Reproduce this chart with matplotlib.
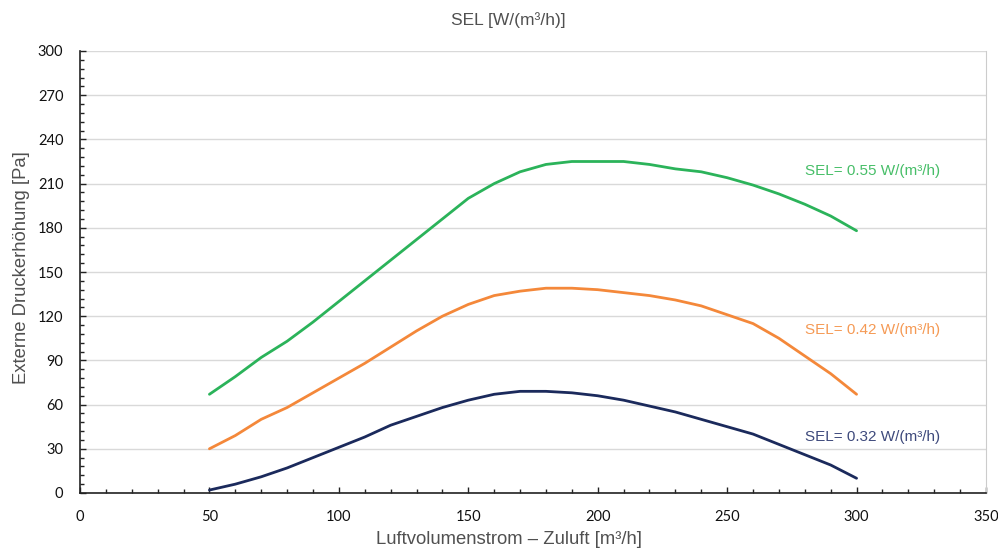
import matplotlib
matplotlib.use('Agg')
import matplotlib.pyplot as plt
import numpy as np

# %% data
luft = [50, 60, 70, 80, 90, 100, 110, 120, 130, 140, 150, 160, 170,
        180, 190, 200, 210, 220, 230, 240, 250, 260, 270, 280, 290, 300]
sel_055 = [67, 79, 92, 103, 116, 130, 144, 158, 172, 186, 200, 210, 218,
           223, 225, 225, 225, 223, 220, 218, 214, 209, 203, 196, 188, 178]
sel_042 = [30, 39, 50, 58, 68, 78, 88, 99, 110, 120, 128, 134, 137,
           139, 139, 138, 136, 134, 131, 127, 121, 115, 105, 93, 81, 67]
sel_032 = [2, 6, 11, 17, 24, 31, 38, 46, 52, 58, 63, 67, 69,
           69, 68, 66, 63, 59, 55, 50, 45, 40, 33, 26, 19, 10]

labels = ['SEL= 0.55 W/(m³/h)', 'SEL= 0.42 W/(m³/h)', 'SEL= 0.32 W/(m³/h)']
label_y = [218.5, 110.5, 38]

line_cols = ['#2bb35a', '#f4883a', '#1b2a5c']
text_cols = ['#47be68', '#f59a55', '#3e4a7c']

# %% figure
fig = plt.figure(figsize=(9.98, 5.5), dpi=100)
ax = fig.add_axes([80/998, 57/550, 906/998, 442/550])

for yy, c in zip([sel_055, sel_042, sel_032], line_cols):
    ax.plot(luft, yy, color=c, lw=2.0, solid_capstyle='round', zorder=3)

for lab, ly, c in zip(labels, label_y, text_cols):
    ax.text(280, ly, lab, color=c, fontsize=11, family='Liberation Sans',
            ha='left', va='center')

ax.set_xlim(0, 350)
ax.set_ylim(0, 300)
ax.set_xticks(np.arange(0, 351, 50))
ax.set_xticks(np.arange(0, 351, 10), minor=True)
ax.set_yticks(np.arange(0, 301, 30))
ax.set_yticks(np.arange(0, 301, 6), minor=True)
ax.grid(axis='y', which='major', color='#d9d9d9', lw=1.0, zorder=0)

ax.tick_params(which='both', direction='in', color='#222222', width=1.0,
               labelsize=10.5, labelcolor='#111111')
ax.tick_params(which='major', length=4.5, pad=12)
ax.tick_params(which='minor', length=3)
ax.tick_params(axis='y', which='major', pad=12)
ax.tick_params(axis='y', which='both', right=False)
ax.tick_params(axis='x', which='both', top=False)
for t in ax.get_xticklabels() + ax.get_yticklabels():
    t.set_family('Lato')

ax.spines['top'].set_visible(False)
ax.spines['right'].set_color('#cccccc')
ax.spines['left'].set_color('#222222')
ax.spines['bottom'].set_color('#222222')
ax.spines['left'].set_linewidth(1.2)
ax.spines['bottom'].set_linewidth(1.2)

ax.set_xlabel('Luftvolumenstrom – Zuluft [m³/h]', fontsize=13.3,
              family='Liberation Sans', color='#505050', va='center')
ax.xaxis.set_label_coords(0.4735, -47/442)
ax.set_ylabel('Externe Druckerhöhung [Pa]', fontsize=13.3,
              family='Liberation Sans', color='#505050', va='center')
ax.yaxis.set_label_coords(-58/906, 0.51)
fig.text(0.509, 1 - 20/550, 'SEL [W/(m³/h)]', ha='center', va='center',
         fontsize=12.5, family='Liberation Sans', color='#505050')

plt.savefig('out.png', dpi=100)
